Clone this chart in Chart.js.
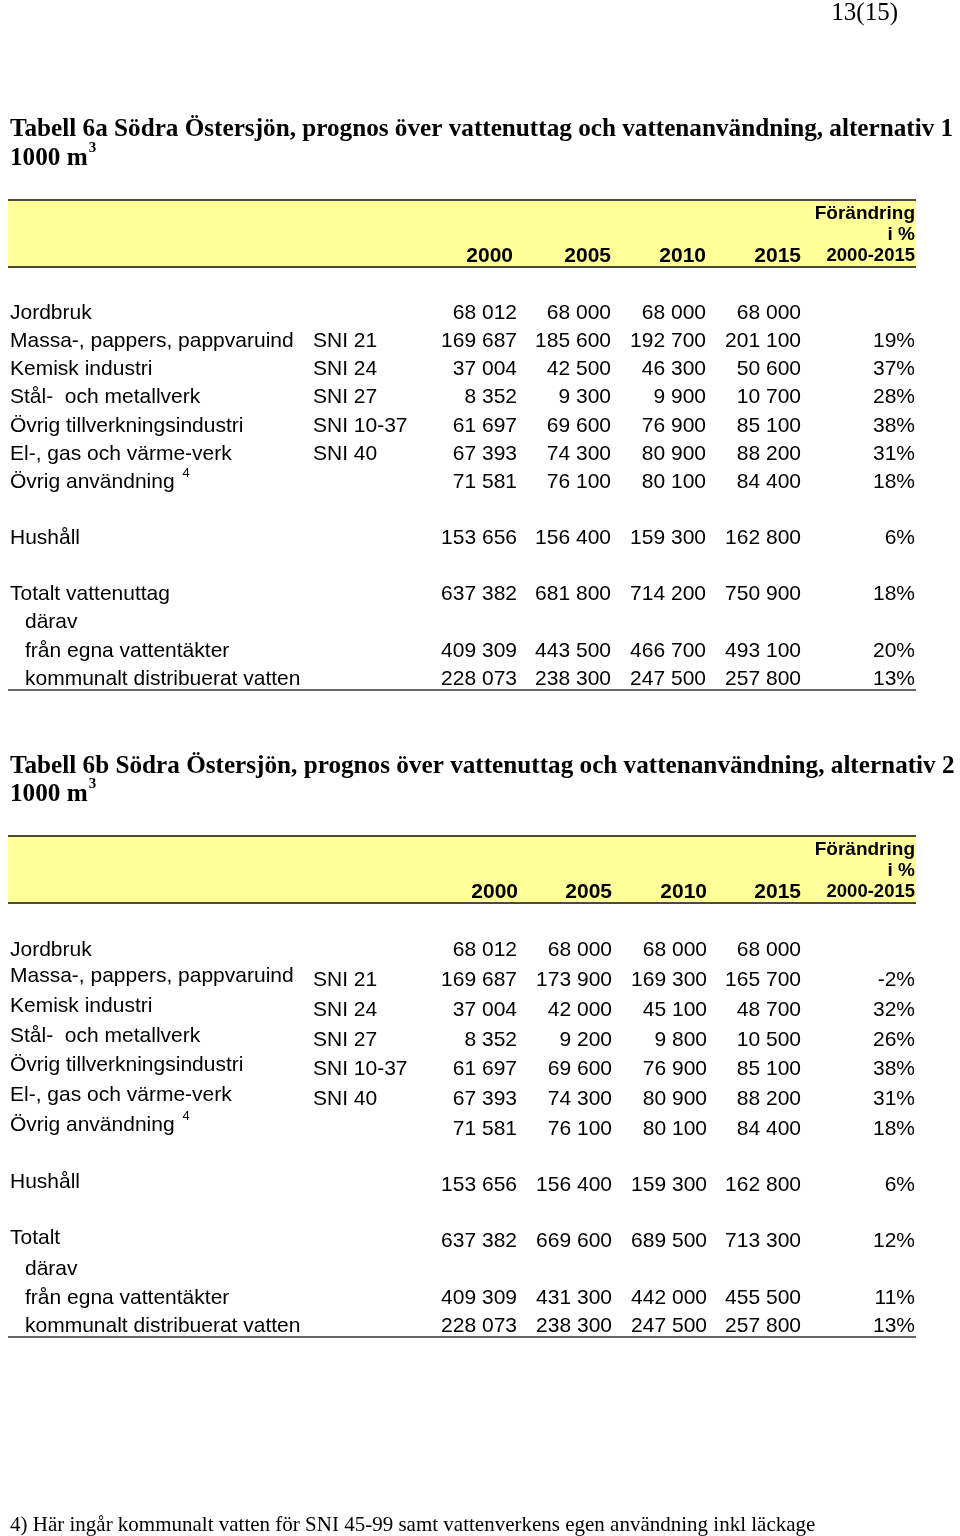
<!DOCTYPE html>
<html lang="sv">
<head>
<meta charset="utf-8">
<title>Tabell 6a och 6b Södra Östersjön</title>
<script src="https://cdn.jsdelivr.net/npm/chart.js@4.4.1/dist/chart.umd.min.js"></script>
<style>
  html, body { margin: 0; padding: 0; background: #fff; }
  #ram { position: relative; width: 960px; height: 1536px; }
</style>
</head>
<body>
<div id="ram"><canvas id="tabell"></canvas></div>
<script>
// --- data ---
const ar = ["2000", "2005", "2010", "2015"];
const forandringRubrik = ["Förändring", "i %", "2000-2015"];

const raderA = ["Jordbruk", "Massa-, pappers, pappvaruind", "Kemisk industri", "Stål-  och metallverk",
  "Övrig tillverkningsindustri", "El-, gas och värme-verk", "Övrig användning", "Hushåll",
  "Totalt vattenuttag", "därav", "från egna vattentäkter", "kommunalt distribuerat vatten"];
const raderB = ["Jordbruk", "Massa-, pappers, pappvaruind", "Kemisk industri", "Stål-  och metallverk",
  "Övrig tillverkningsindustri", "El-, gas och värme-verk", "Övrig användning", "Hushåll",
  "Totalt", "därav", "från egna vattentäkter", "kommunalt distribuerat vatten"];
const sni = ["", "SNI 21", "SNI 24", "SNI 27", "SNI 10-37", "SNI 40", "", "", "", "", "", ""];
const fotnotIndex = ["", "", "", "", "", "", "4", "", "", "", "", ""];
const indrag = [false, false, false, false, false, false, false, false, false, true, true, true];

// alternativ 1
const a2000 = [68012, 169687, 37004, 8352, 61697, 67393, 71581, 153656, 637382, null, 409309, 228073];
const a2005 = [68000, 185600, 42500, 9300, 69600, 74300, 76100, 156400, 681800, null, 443500, 238300];
const a2010 = [68000, 192700, 46300, 9900, 76900, 80900, 80100, 159300, 714200, null, 466700, 247500];
const a2015 = [68000, 201100, 50600, 10700, 85100, 88200, 84400, 162800, 750900, null, 493100, 257800];
const aForandring = [null, 19, 37, 28, 38, 31, 18, 6, 18, null, 20, 13];

// alternativ 2
const b2000 = [68012, 169687, 37004, 8352, 61697, 67393, 71581, 153656, 637382, null, 409309, 228073];
const b2005 = [68000, 173900, 42000, 9200, 69600, 74300, 76100, 156400, 669600, null, 431300, 238300];
const b2010 = [68000, 169300, 45100, 9800, 76900, 80900, 80100, 159300, 689500, null, 442000, 247500];
const b2015 = [68000, 165700, 48700, 10500, 85100, 88200, 84400, 162800, 713300, null, 455500, 257800];
const bForandring = [null, -2, 32, 26, 38, 31, 18, 6, 12, null, 11, 13];

const sidnummer = "13(15)";
const fotnot = "4) Här ingår kommunalt vatten för SNI 45-99 samt vattenverkens egen användning inkl läckage";

// --- layout ---
const tabeller = [
  {
    titel: "Tabell 6a Södra Östersjön, prognos över vattenuttag och vattenanvändning, alternativ 1",
    rader: raderA, varden: [a2000, a2005, a2010, a2015], forandring: aForandring,
    titelY: 129, enhetY: 158, bandTopp: 200, bandBotten: 267, slutlinje: 690,
    radY: [313, 341, 369, 397.5, 426, 454, 482, 538, 594.5, 622.5, 651, 679],
    etikettDy: [0, 0, 0, 0, 0, 0, 0, 0, 0, 0, 0, 0],
    arHoger: [513, 611, 706, 801], talHoger: [517, 611, 706, 801]
  },
  {
    titel: "Tabell 6b Södra Östersjön, prognos över vattenuttag och vattenanvändning, alternativ 2",
    rader: raderB, varden: [b2000, b2005, b2010, b2015], forandring: bForandring,
    titelY: 766, enhetY: 794, bandTopp: 836, bandBotten: 903, slutlinje: 1337,
    radY: [950, 980, 1010, 1040, 1069, 1099, 1129, 1185, 1241, 1269, 1298, 1326],
    etikettDy: [0, -4, -4, -4, -4, -4, -4, -3, -3, 0, 0, 0],
    arHoger: [518, 612, 707, 801], talHoger: [517, 612, 707, 801]
  }
];

const SANS = '"Liberation Sans", Arial, sans-serif';
const SERIF = '"Liberation Serif", "Times New Roman", serif';
const BRODTEXT = "21px " + SANS;

function tal(v) {
  return v === null ? "" : String(v).replace(/\B(?=(\d{3})+(?!\d))/g, " ");
}

const tabellPlugin = {
  id: "tabellPlugin",
  afterDraw(chart) {
    const ctx = chart.ctx;
    const sx = v => chart.scales.x.getPixelForValue(v);
    const sy = v => chart.scales.y.getPixelForValue(v);

    function text(s, x, y, font, align) {
      ctx.font = font;
      ctx.textAlign = align || "left";
      ctx.fillText(s, sx(x), sy(y));
    }

    ctx.save();
    ctx.fillStyle = "#000";
    ctx.textBaseline = "middle";

    text(sidnummer, 898, 13, "25px " + SERIF, "right");

    tabeller.forEach(t => {
      // rubrik
      ctx.fillStyle = "#000";
      text(t.titel, 10, t.titelY, "bold 25.2px " + SERIF);
      text("1000 m", 10, t.enhetY, "bold 25.2px " + SERIF);
      ctx.font = "bold 25.2px " + SERIF;
      const mBredd = ctx.measureText("1000 m").width;
      text("3", 10 + mBredd + 1, t.enhetY - 10, "bold 15px " + SERIF);

      // gult huvud
      ctx.fillStyle = "#ffff99";
      ctx.fillRect(sx(8), sy(t.bandTopp), sx(916) - sx(8), sy(t.bandBotten) - sy(t.bandTopp));
      ctx.strokeStyle = "#4d4a3a";
      ctx.lineWidth = 2;
      [t.bandTopp, t.bandBotten].forEach(yy => {
        ctx.beginPath();
        ctx.moveTo(sx(8), sy(yy));
        ctx.lineTo(sx(916), sy(yy));
        ctx.stroke();
      });

      ctx.fillStyle = "#000";
      ar.forEach((a, i) => text(a, t.arHoger[i], t.bandTopp + 56, "bold 21px " + SANS, "right"));
      text(forandringRubrik[0], 915, t.bandTopp + 13.5, "bold 19px " + SANS, "right");
      text(forandringRubrik[1], 915, t.bandTopp + 35, "bold 19px " + SANS, "right");
      text(forandringRubrik[2], 915, t.bandTopp + 56, "bold 18.5px " + SANS, "right");

      // rader
      t.rader.forEach((r, i) => {
        const y = t.radY[i];
        const ly = y + t.etikettDy[i];
        const x0 = indrag[i] ? 25 : 10;
        text(r, x0, ly, BRODTEXT);
        if (fotnotIndex[i]) {
          ctx.font = BRODTEXT;
          const w = ctx.measureText(r + " ").width;
          text(fotnotIndex[i], x0 + w + 2, ly - 9, "13px " + SANS);
        }
        if (sni[i]) text(sni[i], 313, y, BRODTEXT);
        t.varden.forEach((serie, k) => {
          if (serie[i] !== null) text(tal(serie[i]), t.talHoger[k], y, BRODTEXT, "right");
        });
        if (t.forandring[i] !== null) text(t.forandring[i] + "%", 915, y, BRODTEXT, "right");
      });

      ctx.strokeStyle = "#333";
      ctx.lineWidth = 1.5;
      ctx.beginPath();
      ctx.moveTo(sx(8), sy(t.slutlinje));
      ctx.lineTo(sx(916), sy(t.slutlinje));
      ctx.stroke();
    });

    ctx.fillStyle = "#000";
    text(fotnot, 10, 1525, "21px " + SERIF);
    ctx.restore();
  }
};

new Chart(document.getElementById("tabell"), {
  type: "scatter",
  data: { datasets: [{ data: [], pointRadius: 0 }] },
  options: {
    responsive: true,
    maintainAspectRatio: false,
    devicePixelRatio: 1,
    animation: false,
    layout: { padding: 0 },
    plugins: { legend: { display: false }, tooltip: { enabled: false } },
    scales: {
      x: { type: "linear", min: 0, max: 960, display: false },
      y: { type: "linear", min: 0, max: 1536, reverse: true, display: false }
    }
  },
  plugins: [tabellPlugin]
});
</script>
</body>
</html>
